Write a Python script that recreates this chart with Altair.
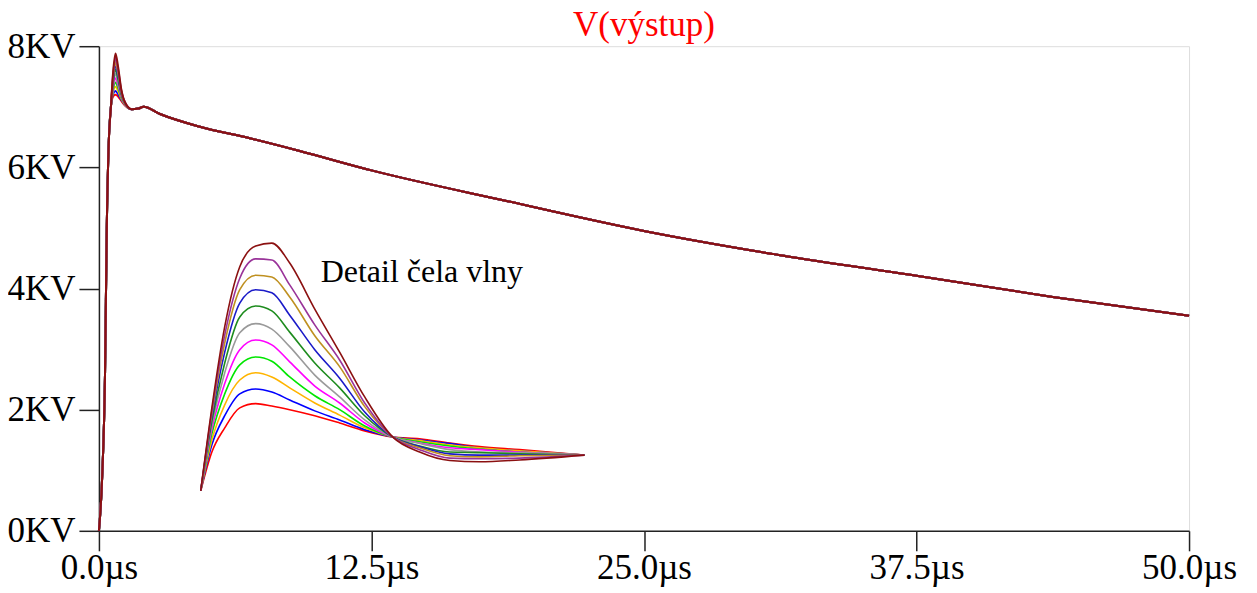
import altair as alt
import pandas as pd

# ---------------- data ----------------
title_text = "V(výstup)"
detail_text = "Detail čela vlny"
detail_pos_t = [10.17]
detail_pos_v = [4.11]

series_colors = ["#FF0000", "#0000FF", "#FFB400", "#00E600", "#FF00FF", "#9A9A9A",
                 "#1E8C1E", "#1A1AC8", "#BF9020", "#993399", "#8B1010"]

x_ticks = [0, 12.5, 25, 37.5, 50]
y_ticks = [0, 2, 4, 6, 8]

# main curves: common rising front, individual peak, common tail (µs, KV)
front_t = [0.0, 0.15, 0.28, 0.36, 0.45, 0.55]
front_v = [0.0, 0.9, 2.6, 5.0, 6.4, 7.0]
peak_t = [0.65, 0.76, 0.88, 1.02, 1.2]
peak_v = [
    [7.17, 7.20, 7.17, 7.10, 7.02],
    [7.21, 7.26, 7.21, 7.12, 7.03],
    [7.25, 7.33, 7.26, 7.14, 7.03],
    [7.29, 7.40, 7.31, 7.16, 7.04],
    [7.33, 7.47, 7.36, 7.18, 7.04],
    [7.37, 7.54, 7.41, 7.20, 7.05],
    [7.41, 7.61, 7.46, 7.22, 7.05],
    [7.45, 7.67, 7.51, 7.24, 7.06],
    [7.49, 7.74, 7.56, 7.26, 7.06],
    [7.53, 7.81, 7.61, 7.28, 7.07],
    [7.57, 7.88, 7.66, 7.30, 7.07],
]
tail_t = [1.5, 1.8, 2.05, 2.8, 4.63, 6.92, 9.21, 12.5, 18.75, 25.0, 31.25, 37.5, 43.75, 50.0]
tail_v = [6.96, 6.97, 7.00, 6.88, 6.67, 6.48, 6.27, 5.95, 5.44, 4.95, 4.55, 4.21, 3.86, 3.55]

# inset "detail of the wave front" curves (drawn in the chart's own units)
inset_t = [4.67, 5.18, 5.77, 6.46, 7.19, 7.93, 8.75, 9.90, 11.04, 12.19,
           13.47, 14.71, 16.09, 17.46, 19.29, 22.27]
inset_v = [
    [0.66, 1.30, 1.70, 2.03, 2.10, 2.06, 2.00, 1.90, 1.78, 1.65, 1.55, 1.52, 1.45, 1.39, 1.34, 1.25],
    [0.66, 1.42, 1.90, 2.26, 2.34, 2.29, 2.16, 1.98, 1.83, 1.67, 1.55, 1.50, 1.44, 1.37, 1.32, 1.25],
    [0.66, 1.50, 2.08, 2.49, 2.61, 2.54, 2.36, 2.11, 1.91, 1.70, 1.55, 1.49, 1.42, 1.37, 1.32, 1.25],
    [0.66, 1.60, 2.26, 2.74, 2.87, 2.80, 2.54, 2.23, 2.00, 1.73, 1.55, 1.47, 1.40, 1.35, 1.30, 1.25],
    [0.66, 1.68, 2.43, 2.99, 3.15, 3.07, 2.79, 2.39, 2.11, 1.78, 1.55, 1.45, 1.37, 1.34, 1.30, 1.25],
    [0.66, 1.75, 2.61, 3.27, 3.42, 3.33, 3.04, 2.57, 2.21, 1.83, 1.55, 1.44, 1.34, 1.30, 1.29, 1.25],
    [0.66, 1.81, 2.77, 3.53, 3.71, 3.63, 3.28, 2.77, 2.36, 1.90, 1.55, 1.40, 1.30, 1.29, 1.27, 1.25],
    [0.66, 1.88, 2.95, 3.76, 3.98, 3.93, 3.56, 2.99, 2.52, 1.96, 1.55, 1.39, 1.27, 1.25, 1.25, 1.25],
    [0.66, 1.93, 3.10, 3.98, 4.22, 4.19, 3.86, 3.22, 2.71, 2.05, 1.55, 1.37, 1.24, 1.22, 1.24, 1.25],
    [0.66, 1.98, 3.23, 4.17, 4.49, 4.47, 4.06, 3.40, 2.82, 2.11, 1.55, 1.34, 1.20, 1.19, 1.20, 1.25],
    [0.66, 2.03, 3.37, 4.36, 4.70, 4.75, 4.42, 3.66, 2.95, 2.21, 1.55, 1.30, 1.16, 1.14, 1.17, 1.25],
]

# ---------------- table ----------------
rows = []
for k in range(len(series_colors)):
    ts = front_t + peak_t + tail_t
    vs = front_v + peak_v[k] + tail_v
    for i, (t, v) in enumerate(zip(ts, vs)):
        rows.append({"t": t, "v": v, "k": k, "grp": f"a{k:02d}", "i": i, "w": "main"})
for k in range(len(series_colors)):
    for i, (t, v) in enumerate(zip(inset_t, inset_v[k])):
        rows.append({"t": t, "v": v, "k": k, "grp": f"b{k:02d}", "i": i, "w": "inset"})
df = pd.DataFrame(rows)

FONT = "Liberation Serif"

xscale = alt.Scale(domain=[0, 50], nice=False, zero=False)
yscale = alt.Scale(domain=[0, 8], nice=False)
cscale = alt.Scale(domain=list(range(len(series_colors))), range=series_colors)

xaxis = alt.Axis(values=x_ticks, title=None, grid=False, tickSize=20,
                 labelExpr="format(datum.value, '.1f') + 'µs'", labelPadding=0,
                 labelFont=FONT, labelFontSize=35, labelColor="black",
                 domainColor="#222", tickColor="#222", domainWidth=1.5, tickWidth=1.5,
                 labelFlush=False, labelOverlap=False)
yaxis = alt.Axis(values=y_ticks, title=None, grid=False, tickSize=20,
                 labelExpr="datum.value + 'KV'", labelPadding=4,
                 labelFont=FONT, labelFontSize=35, labelColor="black",
                 domainColor="#222", tickColor="#222", domainWidth=1.5, tickWidth=1.5,
                 labelFlush=False, labelOverlap=False)

main = alt.Chart(df[df.w == "main"]).mark_line(strokeWidth=2, interpolate="monotone").encode(
    x=alt.X("t:Q", scale=xscale, axis=xaxis),
    y=alt.Y("v:Q", scale=yscale, axis=yaxis),
    color=alt.Color("k:N", scale=cscale, legend=None),
    detail="grp:N",
    order="i:Q",
)

inset = alt.Chart(df[df.w == "inset"]).mark_line(strokeWidth=1.6, interpolate="monotone").encode(
    x=alt.X("t:Q", scale=xscale),
    y=alt.Y("v:Q", scale=yscale),
    color=alt.Color("k:N", scale=cscale, legend=None),
    detail="grp:N",
    order="i:Q",
)

detail = alt.Chart(pd.DataFrame({"t": detail_pos_t, "v": detail_pos_v, "label": [detail_text]})).mark_text(
    font=FONT, fontSize=32, color="black", align="left", baseline="alphabetic"
).encode(x=alt.X("t:Q", scale=xscale), y=alt.Y("v:Q", scale=yscale), text="label:N")

title = alt.Chart(pd.DataFrame({"label": [title_text]})).mark_text(
    font=FONT, fontSize=35, color="red", align="center", baseline="alphabetic"
).encode(x=alt.value(545.5), y=alt.value(-10), text="label:N")

chart = alt.layer(main, inset, detail, title).properties(
    width=1091, height=485,
    autosize=alt.AutoSizeParams(type="none"),
    padding={"left": 91, "top": 38, "right": 60, "bottom": 58},
).configure_view(stroke="#222", strokeWidth=1.5).configure(background="white")

chart.save("out.html", embed_options={"renderer": "svg", "actions": False})
